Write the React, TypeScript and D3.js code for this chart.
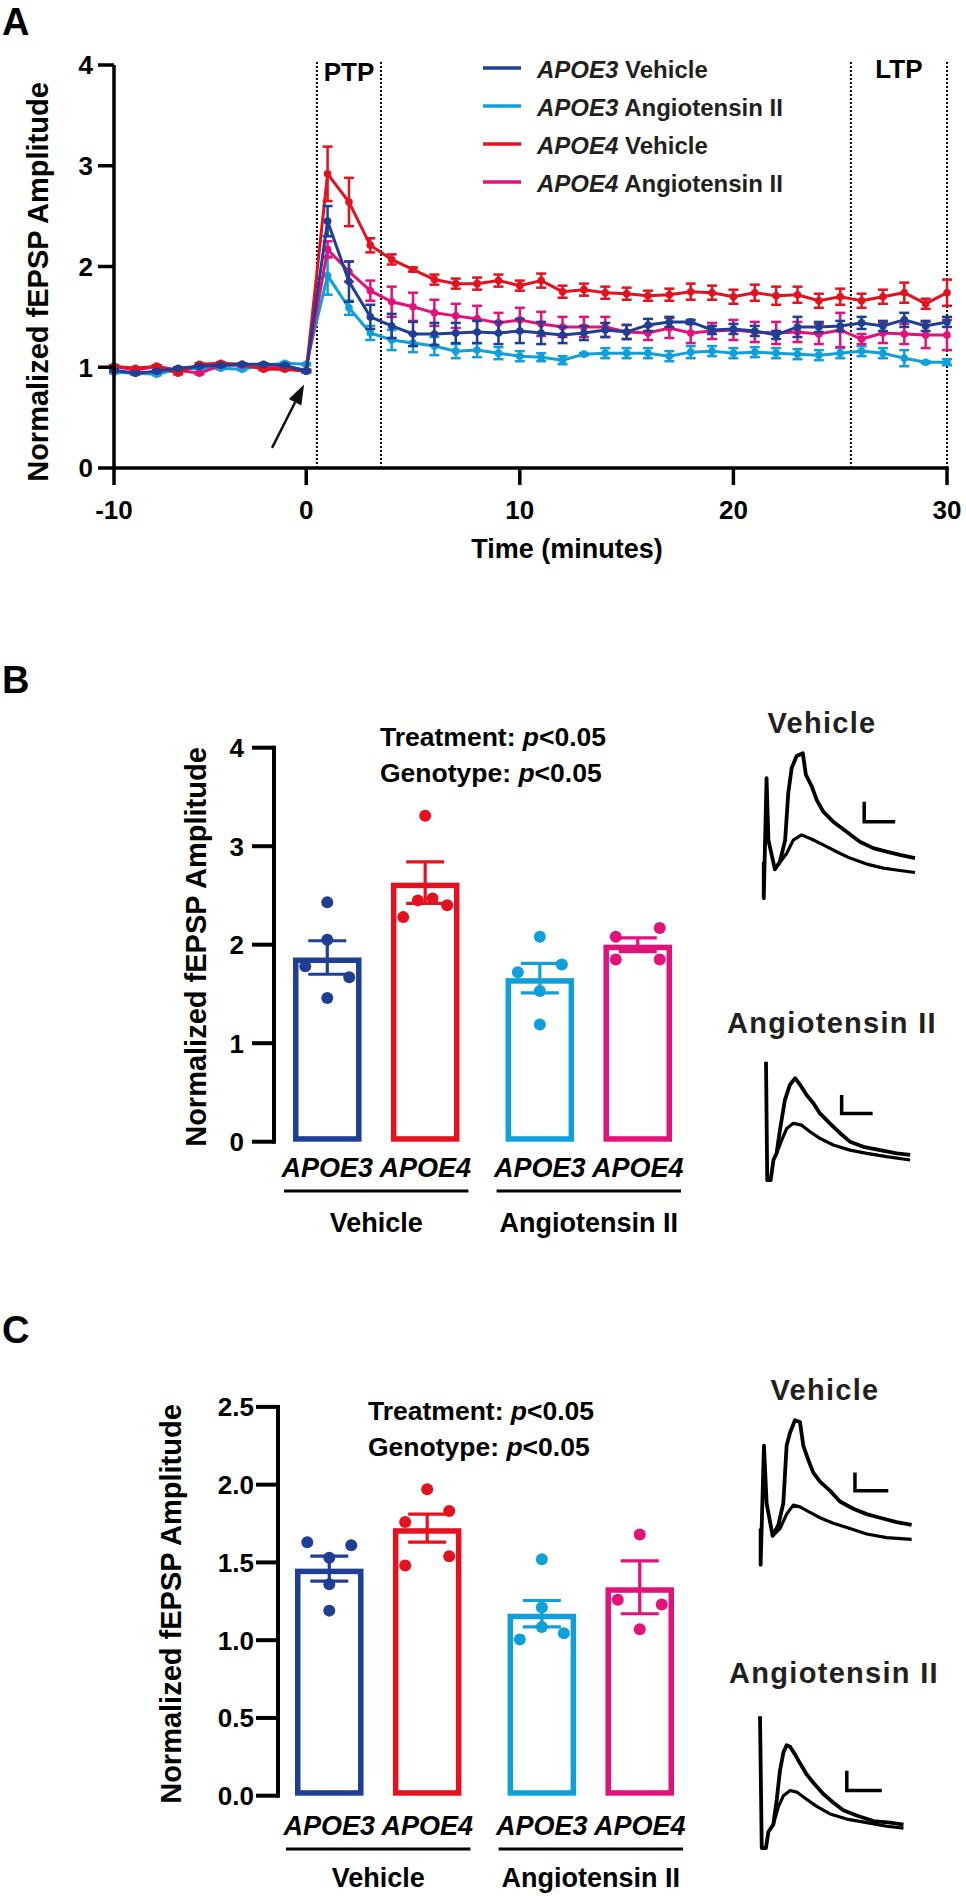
import React from "react";
import * as d3 from "d3";

const FONT = "'Liberation Sans', Arial, Helvetica, sans-serif";
const TXT = "#231f20";

// ---------------- Panel A data ----------------
const minutes = [
  -9, -8, -7, -6, -5, -4, -3, -2, -1, 0,
  1, 2, 3, 4, 5, 6, 7, 8, 9, 10,
  11, 12, 13, 14, 15, 16, 17, 18, 19, 20,
  21, 22, 23, 24, 25, 26, 27, 28, 29, 30,
];
const timeTicks = [-9, 0, 10, 20, 30];
const timeTickLabels = ["-10", "0", "10", "20", "30"];
const ampTicksA = [0, 1, 2, 3, 4];
const ptpWindow = [0.5, 3.5];
const ltpWindow = [25.5, 30];

const seriesGenotype = ["APOE3", "APOE3", "APOE4", "APOE4"];
const seriesTreatment = ["Vehicle", "Angiotensin II", "Vehicle", "Angiotensin II"];
const seriesColors = ["#1f3f95", "#0f9fda", "#e3121e", "#e3127b"];

const apoe3VehicleMean = [
  0.97, 0.94, 0.96, 0.99, 1.01, 1.02, 1.03, 1.03, 1.02, 0.96,
  2.45, 1.85, 1.5, 1.41, 1.33, 1.33, 1.34, 1.35, 1.34, 1.36,
  1.34, 1.32, 1.34, 1.37, 1.35, 1.42, 1.45, 1.45, 1.37, 1.38,
  1.36, 1.32, 1.4, 1.4, 1.41, 1.44, 1.41, 1.47, 1.41, 1.45,
];
const apoe3VehicleSem = [
  0.01, 0.01, 0.01, 0.01, 0.01, 0.01, 0.01, 0.01, 0.01, 0.01,
  0.15, 0.2, 0.12, 0.12, 0.12, 0.11, 0.1, 0.11, 0.11, 0.12,
  0.11, 0.08, 0.07, 0.07, 0.07, 0.06, 0.05, 0.02, 0.04, 0.05,
  0.05, 0.04, 0.1, 0.05, 0.05, 0.06, 0.05, 0.07, 0.05, 0.05,
];
const apoe3AngMean = [
  0.95, 0.94, 0.93, 0.98, 0.99, 0.99, 0.98, 1.02, 1.04, 1.03,
  1.91, 1.59, 1.34, 1.27, 1.24, 1.21, 1.16, 1.17, 1.14, 1.11,
  1.1, 1.07, 1.13, 1.14, 1.14, 1.14, 1.11, 1.15, 1.16, 1.14,
  1.15, 1.14, 1.13, 1.12, 1.14, 1.16, 1.14, 1.09, 1.05, 1.05,
];
const apoe3AngSem = [
  0.01, 0.01, 0.01, 0.01, 0.01, 0.01, 0.01, 0.01, 0.01, 0.01,
  0.19, 0.07, 0.07, 0.1, 0.09, 0.09, 0.07, 0.07, 0.06, 0.05,
  0.04, 0.04, 0.01, 0.05, 0.05, 0.05, 0.05, 0.06, 0.05, 0.05,
  0.05, 0.05, 0.05, 0.05, 0.05, 0.05, 0.05, 0.08, 0.01, 0.03,
];
const apoe4VehicleMean = [
  1.01, 0.99, 1.01, 0.94, 1.03, 1.04, 1.03, 0.98, 0.98, 0.96,
  2.92, 2.64, 2.21, 2.07, 1.97, 1.87, 1.83, 1.83, 1.86, 1.81,
  1.86, 1.75, 1.77, 1.74, 1.73, 1.71, 1.72, 1.75, 1.74, 1.7,
  1.74, 1.71, 1.72, 1.66, 1.7, 1.66, 1.7, 1.74, 1.63, 1.74,
];
const apoe4VehicleSem = [
  0.01, 0.01, 0.01, 0.01, 0.01, 0.01, 0.01, 0.01, 0.01, 0.01,
  0.27, 0.24, 0.07, 0.05, 0.02, 0.05, 0.05, 0.06, 0.06, 0.05,
  0.07, 0.06, 0.06, 0.06, 0.06, 0.05, 0.06, 0.08, 0.07, 0.07,
  0.08, 0.09, 0.08, 0.07, 0.08, 0.07, 0.07, 0.1, 0.05, 0.13,
];
const apoe4AngMean = [
  1.01, 0.97, 1.01, 0.97, 0.94, 1.02, 1.02, 0.99, 1.01, 0.97,
  2.17, 1.95, 1.76, 1.65, 1.6, 1.54, 1.51, 1.48, 1.44, 1.47,
  1.43, 1.4, 1.4, 1.4, 1.35, 1.34, 1.39, 1.34, 1.36, 1.37,
  1.35, 1.34, 1.35, 1.33, 1.37, 1.28, 1.34, 1.33, 1.32, 1.32,
];
const apoe4AngSem = [
  0.01, 0.01, 0.01, 0.01, 0.01, 0.01, 0.01, 0.01, 0.01, 0.01,
  0.08, 0.1, 0.1, 0.15, 0.14, 0.13, 0.12, 0.13, 0.1, 0.12,
  0.12, 0.1, 0.1, 0.1, 0.07, 0.07, 0.1, 0.1, 0.08, 0.1,
  0.1, 0.11, 0.1, 0.1, 0.17, 0.05, 0.1, 0.1, 0.13, 0.15,
];
const seriesMeans = [apoe3VehicleMean, apoe3AngMean, apoe4VehicleMean, apoe4AngMean];
const seriesSems = [apoe3VehicleSem, apoe3AngSem, apoe4VehicleSem, apoe4AngSem];
const drawOrder = [1, 3, 2, 0];
const arrowTail = [-1.6, 0.2];
const arrowTip = [-0.1, 0.83];

// ---------------- Bar panels data ----------------
const treatments = ["Vehicle", "Angiotensin II"];
const genotypes = ["APOE3", "APOE4"];
const barColors = ["#1f3f95", "#e3121e", "#0f9fda", "#e3127b"];

const ptpMeans = [1.87, 2.63, 1.66, 2.0];
const ptpSems = [0.17, 0.21, 0.15, 0.07];
const ptpPoints = [
  [2.43, 2.05, 1.78, 1.67, 1.46],
  [3.31, 2.28, 2.45, 2.47, 2.4],
  [2.08, 1.72, 1.8, 1.53, 1.19],
  [2.08, 2.17, 1.85, 1.85],
];
const ptpTicks = [0, 1, 2, 3, 4];

const ltpMeans = [1.46, 1.72, 1.17, 1.34];
const ltpSems = [0.08, 0.09, 0.085, 0.17];
const ltpPoints = [
  [1.63, 1.53, 1.61, 1.36, 1.19],
  [1.97, 1.76, 1.83, 1.48, 1.54],
  [1.52, 1.21, 1.005, 1.085, 1.044],
  [1.68, 1.26, 1.23, 1.07],
];
const ltpTicks = [0, 0.5, 1, 1.5, 2, 2.5];

// ---------------- Example traces (ms, mV) ----------------
const ptpVehicleAfter = [
  [-0.4, 0.29], [-0.4, -0.62], [0.5, 2.38], [1.1, 0.83], [3.2, 0.1], [4.8, 0.29], [6.5, 0.83],
  [7.5, 2.0], [8.6, 2.63], [10.2, 2.93], [12.2, 3.0], [13.2, 2.46], [15.1, 2.17], [16.7, 1.83],
  [18.8, 1.54], [22.0, 1.29], [26.3, 1.04], [30.6, 0.79], [34.9, 0.63], [39.2, 0.54], [43.5, 0.46], [48.4, 0.38],
];
const ptpVehicleBefore = [
  [3.2, 0.1], [4.8, 0.27], [7.0, 0.5], [9.1, 0.83], [11.8, 0.96], [15.1, 0.85], [18.8, 0.71],
  [23.1, 0.54], [27.4, 0.38], [32.8, 0.23], [38.2, 0.13], [43.5, 0.07], [48.4, 0.02],
];
const ptpVehicleBar = [32, 1.29];
const ptpAngAfter = [
  [0, 2.68], [0.4, -0.55], [1.5, -0.55], [2.4, 0], [3.4, 0.18], [4.5, 0.82], [6.1, 1.64], [7.7, 2.05],
  [9.4, 2.23], [11.0, 2.05], [13.1, 1.77], [15.3, 1.55], [17.4, 1.27], [20.6, 1.0], [23.9, 0.73],
  [27.1, 0.5], [31.4, 0.36], [36.8, 0.27], [42.2, 0.18], [46.5, 0.14],
];
const ptpAngBefore = [
  [3.4, 0.18], [5.1, 0.55], [6.7, 0.86], [8.8, 1.0], [11.5, 0.95], [14.2, 0.77], [17.4, 0.59],
  [21.7, 0.41], [27.1, 0.27], [32.5, 0.18], [38.9, 0.09], [46.5, 0],
];
const ptpAngBar = [24.4, 1.27];

const ltpVehicleAfter = [
  [-0.5, 0.35], [-0.5, -0.65], [0.5, 2.65], [1.3, 1.05], [3.1, 0.15], [4.8, 0.45], [6.3, 1.05],
  [7.3, 2.65], [8.3, 3.0], [9.8, 3.35], [11.3, 3.3], [12.3, 2.65], [13.8, 2.25], [15.3, 1.9],
  [17.3, 1.65], [20.3, 1.4], [23.3, 1.1], [27.3, 0.9], [31.3, 0.75], [35.3, 0.65], [40.3, 0.53], [44.8, 0.45],
];
const ltpVehicleBefore = [
  [3.1, 0.15], [5.3, 0.35], [7.3, 0.75], [9.3, 1.0], [11.3, 0.95], [14.3, 0.8], [17.3, 0.65],
  [21.3, 0.5], [26.3, 0.35], [31.3, 0.2], [37.3, 0.1], [44.8, 0.05],
];
const ltpVehicleBar = [27.8, 1.4];
const ltpAngAfter = [
  [-0.2, 2.82], [0.3, -0.5], [1.5, -0.5], [2.2, -0.09], [3.6, 0.09], [4.6, 0.73], [5.5, 1.45],
  [6.5, 1.91], [7.4, 2.09], [8.4, 2.05], [9.8, 1.86], [11.2, 1.64], [13.1, 1.36], [15.1, 1.14],
  [17.9, 0.86], [20.8, 0.64], [23.6, 0.45], [27.4, 0.32], [32.2, 0.18], [37.0, 0.14], [40.8, 0.09],
];
const ltpAngBefore = [
  [3.6, 0.09], [5.1, 0.55], [6.5, 0.82], [8.4, 0.95], [10.3, 0.91], [13.1, 0.73], [16.0, 0.55],
  [19.8, 0.36], [24.6, 0.23], [30.3, 0.14], [36.0, 0.05], [40.8, 0],
];
const ltpAngBar = [24.6, 0.95];
const scaleBarMs = 10;
const scaleBarMv = 0.5;

// ---------------- Components ----------------
function PanelA() {
  const x = d3.scaleLinear().domain([-9, 30]).range([114, 947]);
  const y = d3.scaleLinear().domain([0, 4]).range([468, 65]);
  const line = d3.line<number>().x((_, i) => x(minutes[i])).y((d) => y(d));
  const cap = 5;

  const tx = x(arrowTail[0]), ty = y(arrowTail[1]);
  const hx = x(arrowTip[0]), hy = y(arrowTip[1]);
  const ang = Math.atan2(hy - ty, hx - tx);
  const hl = 20, hw = 7;
  const bx = hx - hl * Math.cos(ang), by = hy - hl * Math.sin(ang);
  const head = `M${hx},${hy}L${bx + hw * Math.sin(ang)},${by - hw * Math.cos(ang)}L${bx - hw * Math.sin(ang)},${by + hw * Math.cos(ang)}Z`;

  return (
    <g>
      <text x={2} y={35} fontSize={38} fontWeight="bold" fontFamily={FONT}>A</text>
      {[...ptpWindow, ...ltpWindow].map((t, i) => (
        <line key={i} x1={x(t)} x2={x(t)} y1={y(4.03)} y2={y(0)} stroke="#000" strokeWidth={2} strokeDasharray="2,2" />
      ))}
      <text x={(x(ptpWindow[0]) + x(ptpWindow[1])) / 2} y={81} textAnchor="middle" fontSize={26} fontWeight="bold" fontFamily={FONT}>PTP</text>
      <text x={(x(ltpWindow[0]) + x(ltpWindow[1])) / 2} y={78} textAnchor="middle" fontSize={26} fontWeight="bold" fontFamily={FONT}>LTP</text>

      {drawOrder.map((s) => {
        const m = seriesMeans[s], e = seriesSems[s], c = seriesColors[s];
        return (
          <g key={s}>
            <path d={line(m) || ""} fill="none" stroke={c} strokeWidth={3} />
            {m.map((v, i) => {
              const cx = x(minutes[i]);
              const y1 = y(v + e[i]), y2 = y(v - e[i]);
              return (
                <g key={i}>
                  <line x1={cx} x2={cx} y1={y1} y2={y2} stroke={c} strokeWidth={2.5} />
                  <line x1={cx - cap} x2={cx + cap} y1={y1} y2={y1} stroke={c} strokeWidth={2.5} />
                  <line x1={cx - cap} x2={cx + cap} y1={y2} y2={y2} stroke={c} strokeWidth={2.5} />
                  <circle cx={cx} cy={y(v)} r={3.8} fill={c} />
                </g>
              );
            })}
          </g>
        );
      })}

      <line x1={tx} y1={ty} x2={bx} y2={by} stroke="#111" strokeWidth={2.5} />
      <path d={head} fill="#111" />

      {/* axes */}
      <line x1={x(-9)} x2={x(-9)} y1={y(0) + 1.75} y2={y(4)} stroke="#000" strokeWidth={3.5} />
      <line x1={x(-9) - 1.75} x2={x(30) + 1.75} y1={y(0)} y2={y(0)} stroke="#000" strokeWidth={3.5} />
      {ampTicksA.map((t) => (
        <g key={t}>
          <line x1={x(-9) - 16} x2={x(-9)} y1={y(t)} y2={y(t)} stroke="#000" strokeWidth={3.5} />
          <text x={93} y={y(t)} dy="0.36em" textAnchor="end" fontSize={26} fontWeight="bold" fontFamily={FONT}>{t}</text>
        </g>
      ))}
      {timeTicks.map((t, i) => (
        <g key={t}>
          <line x1={x(t)} x2={x(t)} y1={y(0)} y2={y(0) + 17} stroke="#000" strokeWidth={3.5} />
          <text x={x(t)} y={519} textAnchor="middle" fontSize={26} fontWeight="bold" fontFamily={FONT}>{timeTickLabels[i]}</text>
        </g>
      ))}
      <text x={567} y={558} textAnchor="middle" fontSize={27} fontWeight="bold" fontFamily={FONT}>Time (minutes)</text>
      <text transform="translate(48,282) rotate(-90)" textAnchor="middle" fontSize={29} fontWeight="bold" fontFamily={FONT}>Normalized fEPSP Amplitude</text>

      {/* legend */}
      {seriesColors.map((c, i) => {
        const ly = 68 + i * 38;
        return (
          <g key={i}>
            <line x1={483} x2={521} y1={ly} y2={ly} stroke={c} strokeWidth={3.5} />
            <text x={537} y={ly + 10} fontSize={24} fontWeight="bold" fontFamily={FONT} fill={TXT}>
              <tspan fontStyle="italic">{seriesGenotype[i]}</tspan> {seriesTreatment[i]}
            </text>
          </g>
        );
      })}
    </g>
  );
}

type BarProps = {
  letter: string; letterY: number;
  means: number[]; sems: number[]; points: number[][]; ticks: number[]; fmt: (n: number) => string;
  y0: number; yTop: number; axisX: number; tickLabelX: number; xRange: [number, number];
  genoY: number; lineY: number; groupY: number; statX: number; statY: number;
  titleX: number; titleY: number;
};

function BarPanel(p: BarProps) {
  const yMax = p.ticks[p.ticks.length - 1];
  const y = d3.scaleLinear().domain([0, yMax]).range([p.y0, p.yTop]);
  const xg = d3.scaleBand<string>().domain(treatments).range(p.xRange).paddingInner(0.217).paddingOuter(0);
  const xi = d3.scaleBand<string>().domain(genotypes).range([0, xg.bandwidth()]).paddingInner(0.3).paddingOuter(0);
  const sw = 5.5;
  const r = 6;
  const capHalf = 19;

  const bars = p.means.map((m, i) => {
    const t = treatments[Math.floor(i / 2)];
    const g = genotypes[i % 2];
    const x0 = (xg(t) || 0) + (xi(g) || 0);
    return { x0, w: xi.bandwidth(), cx: x0 + xi.bandwidth() / 2, m, e: p.sems[i], c: barColors[i], pts: p.points[i] };
  });

  function jitter(vals: number[]) {
    const py = vals.map((v) => y(v));
    const idx = vals.map((_, i) => i).sort((a, b) => py[a] - py[b]);
    const clusters: number[][] = [];
    idx.forEach((i) => {
      const last = clusters[clusters.length - 1];
      if (last && py[i] - py[last[last.length - 1]] < 15) last.push(i);
      else clusters.push([i]);
    });
    const off = vals.map(() => 0);
    clusters.forEach((cl) => {
      const sorted = [...cl].sort((a, b) => a - b);
      const n = sorted.length;
      sorted.forEach((i, k) => { off[i] = n === 1 ? 0 : -22 + (44 * k) / (n - 1); });
    });
    return off;
  }

  return (
    <g fontFamily={FONT}>
      <text x={2} y={p.letterY} fontSize={38} fontWeight="bold">{p.letter}</text>
      <text x={p.statX} y={p.statY} fontSize={26.5} fontWeight="bold">
        Treatment: <tspan fontStyle="italic">p</tspan>&lt;0.05
      </text>
      <text x={p.statX} y={p.statY + 36} fontSize={26.5} fontWeight="bold">
        Genotype: <tspan fontStyle="italic">p</tspan>&lt;0.05
      </text>
      {bars.map((b, i) => {
        const off = jitter(b.pts);
        const yt = y(b.m + b.e), yb = y(b.m - b.e);
        return (
          <g key={i}>
            <rect x={b.x0 + sw / 2} y={y(b.m) + sw / 2} width={b.w - sw} height={p.y0 - y(b.m) - sw} fill="#fff" stroke={b.c} strokeWidth={sw} />
            <line x1={b.cx} x2={b.cx} y1={yt} y2={yb} stroke={b.c} strokeWidth={3.2} />
            <line x1={b.cx - capHalf} x2={b.cx + capHalf} y1={yt} y2={yt} stroke={b.c} strokeWidth={3.2} />
            <line x1={b.cx - capHalf} x2={b.cx + capHalf} y1={yb} y2={yb} stroke={b.c} strokeWidth={3.2} />
            {b.pts.map((v, k) => (
              <circle key={k} cx={b.cx + off[k]} cy={y(v)} r={r} fill={b.c} />
            ))}
            <text x={b.cx} y={p.genoY} textAnchor="middle" fontSize={27} fontWeight="bold" fontStyle="italic">{genotypes[i % 2]}</text>
          </g>
        );
      })}
      {treatments.map((t) => {
        const a = (xg(t) || 0) - 9, z = (xg(t) || 0) + xg.bandwidth() + 9;
        return (
          <g key={t}>
            <line x1={a} x2={z} y1={p.lineY} y2={p.lineY} stroke="#000" strokeWidth={3} />
            <text x={(a + z) / 2} y={p.groupY} textAnchor="middle" fontSize={27} fontWeight="bold">{t}</text>
          </g>
        );
      })}
      <line x1={p.axisX} x2={p.axisX} y1={p.y0 + 2} y2={p.yTop - 2} stroke="#000" strokeWidth={4} />
      {p.ticks.map((t) => (
        <g key={t}>
          <line x1={p.axisX - 22} x2={p.axisX} y1={y(t)} y2={y(t)} stroke="#000" strokeWidth={4} />
          <text x={p.tickLabelX} y={y(t)} dy="0.36em" textAnchor="end" fontSize={26} fontWeight="bold">{p.fmt(t)}</text>
        </g>
      ))}
      <text transform={`translate(${p.titleX},${p.titleY}) rotate(-90)`} textAnchor="middle" fontSize={29} fontWeight="bold">Normalized fEPSP Amplitude</text>
    </g>
  );
}

type TraceProps = {
  title: string; titleX: number; titleY: number;
  after: number[][]; before: number[][]; bar: number[];
  x0: number; kx: number; y0: number; ky: number;
};

function Trace(p: TraceProps) {
  const sx = d3.scaleLinear().domain([0, 10]).range([p.x0, p.x0 + 10 * p.kx]);
  const sy = d3.scaleLinear().domain([0, 1]).range([p.y0, p.y0 - p.ky]);
  const line = d3.line<number[]>().x((d) => sx(d[0])).y((d) => sy(d[1]));
  const barPath = `M${sx(p.bar[0])},${sy(p.bar[1] + scaleBarMv)}V${sy(p.bar[1])}H${sx(p.bar[0] + scaleBarMs)}`;
  return (
    <g>
      <text x={p.titleX} y={p.titleY} textAnchor="middle" fontSize={29} fontWeight="bold" fontFamily={FONT} fill={TXT} letterSpacing={1.3}>{p.title}</text>
      <path d={line(p.before) || ""} fill="none" stroke="#000" strokeWidth={3.2} strokeLinejoin="round" />
      <path d={line(p.after) || ""} fill="none" stroke="#000" strokeWidth={3.8} strokeLinejoin="round" />
      <path d={barPath} fill="none" stroke="#000" strokeWidth={3.5} />
    </g>
  );
}

export default function App() {
  return (
    <svg width={966} height={1896} viewBox="0 0 966 1896" style={{ position: "absolute", left: 0, top: 0, background: "#fff" }}>
      <rect x={0} y={0} width={966} height={1896} fill="#fff" />
      <PanelA />
      <BarPanel
        letter="B" letterY={693}
        means={ptpMeans} sems={ptpSems} points={ptpPoints} ticks={ptpTicks} fmt={d3.format("d")}
        y0={1141.7} yTop={747.7} axisX={274} tickLabelX={244} xRange={[293, 672]}
        genoY={1177} lineY={1191} groupY={1232} statX={380} statY={746}
        titleX={206} titleY={947}
      />
      <BarPanel
        letter="C" letterY={1343}
        means={ltpMeans} sems={ltpSems} points={ltpPoints} ticks={ltpTicks} fmt={d3.format(".1f")}
        y0={1795.7} yTop={1406.9} axisX={278} tickLabelX={254} xRange={[295, 674]}
        genoY={1835} lineY={1849} groupY={1887} statX={368} statY={1420}
        titleX={181} titleY={1604}
      />
      <Trace title="Vehicle" titleX={822} titleY={733} after={ptpVehicleAfter} before={ptpVehicleBefore} bar={ptpVehicleBar} x0={765} kx={3.1} y0={873.3} ky={40} />
      <Trace title="Angiotensin II" titleX={832} titleY={1033} after={ptpAngAfter} before={ptpAngBefore} bar={ptpAngBar} x0={766} kx={3.1} y0={1160} ky={36.67} />
      <Trace title="Vehicle" titleX={825} titleY={1400} after={ltpVehicleAfter} before={ltpVehicleBefore} bar={ltpVehicleBar} x0={762.3} kx={3.333} y0={1541.2} ky={36.1} />
      <Trace title="Angiotensin II" titleX={834} titleY={1683} after={ltpAngAfter} before={ltpAngBefore} bar={ltpAngBar} x0={760.7} kx={3.5} y0={1828.2} ky={39.7} />
    </svg>
  );
}
